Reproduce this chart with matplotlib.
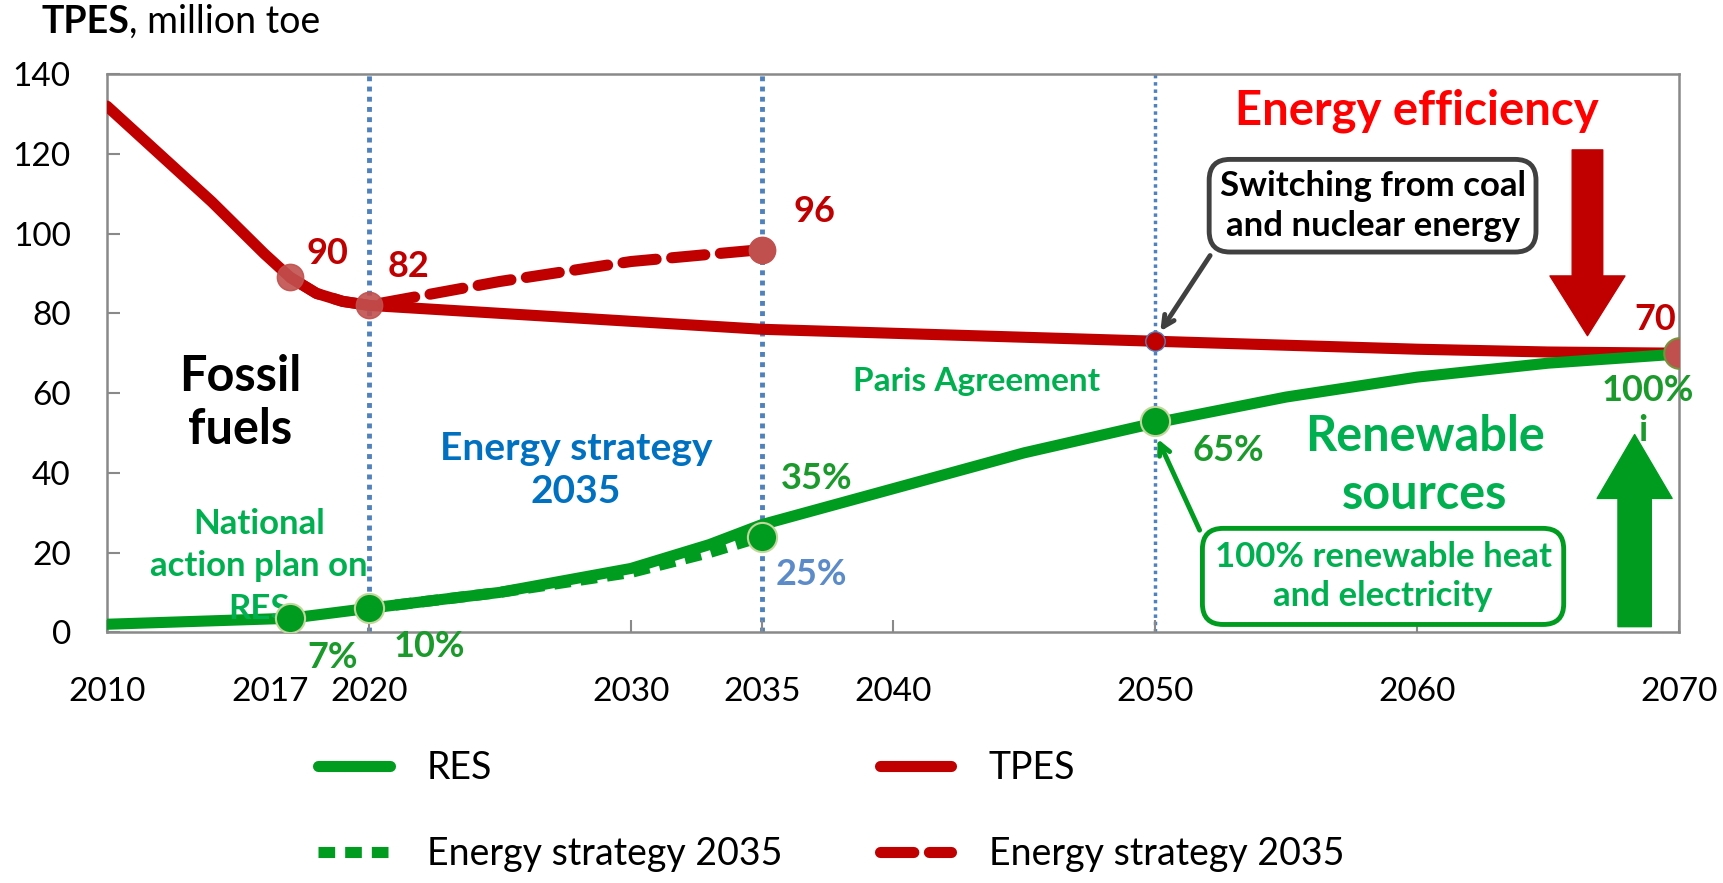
import matplotlib
matplotlib.use('Agg')
import matplotlib.pyplot as plt
from matplotlib.transforms import ScaledTranslation

plt.rcParams['font.family'] = ['Lato', 'DejaVu Sans']

# TPES, million toe
tpes_years = [2010, 2012, 2014, 2016, 2017, 2018, 2019, 2020, 2025, 2030, 2035, 2040, 2045, 2050, 2055, 2060, 2065, 2070]
tpes_vals = [132, 120, 108, 95, 89, 85, 83, 82, 80, 78, 76, 75, 74, 73, 72, 71, 70.3, 70]
tpes_es_years = [2017, 2018, 2019, 2020, 2025, 2030, 2035]
tpes_es_vals = [89, 85, 83, 82, 88, 93, 96]

# RES, million toe
res_years = [2010, 2017, 2020, 2025, 2030, 2033, 2035, 2040, 2045, 2050, 2055, 2060, 2065, 2070]
res_vals = [2, 3.5, 6, 10, 16, 22, 27, 36, 45, 52.5, 59, 64, 67.5, 69.8]
res_es_years = [2020, 2025, 2030, 2033, 2035]
res_es_vals = [6, 10, 15, 20, 24]

milestones = [2020, 2035, 2050]
x_ticks = [2010, 2017, 2020, 2030, 2035, 2040, 2050, 2060, 2070]
y_ticks = [0, 20, 40, 60, 80, 100, 120, 140]

RED = '#C00000'
GREEN = '#009C1F'
LGREEN = '#00B050'
TGREEN = '#1A9A2A'
BLUE = '#4F81BD'

fig = plt.figure(figsize=(17.24, 8.83), dpi=100)
ax = fig.add_axes([0.062, 0.284, 0.912, 0.632])

for m in milestones:
    ax.plot([m, m], [0, 140], color=BLUE, lw=3.5 if m < 2050 else 2.5, ls=(0, (1, 1.1)), zorder=1)

ax.plot(tpes_es_years, tpes_es_vals, color=RED, lw=8, dashes=(3.0, 1.4), dash_capstyle='round',
        label='Energy strategy 2035', zorder=3)
ax.plot(tpes_years, tpes_vals, color=RED, lw=8, solid_capstyle='round', label='TPES', zorder=3)
ax.plot(res_es_years, res_es_vals, color=GREEN, lw=8, dashes=(1.5, 0.9), label='Energy strategy 2035', zorder=3)
ax.plot(res_years, res_vals, color=GREEN, lw=8, solid_capstyle='round', label='RES', zorder=4)

# markers
ax.plot([2017, 2020], [89, 82], 'o', ms=19, color='#C0504D', mec='#C0504D', alpha=0.9, zorder=5)
ax.plot([2035], [96], 'o', ms=19, color='#C0504D', zorder=5)
ax.plot([2050], [73], 'o', ms=14, color=RED, mec=BLUE, mew=1, zorder=5)
ax.plot([2070], [70], 'o', ms=22, color='#C0504D', mec='#77933C', mew=1.5, zorder=6)
ax.plot([2017, 2020, 2035, 2050], [3.5, 6, 24, 53], 'o', ms=21, color=GREEN, mec='#C3D69B', mew=1.5, zorder=5)

# value labels
lab = dict(fontweight='bold', fontsize=26, ha='center', va='center', zorder=7)
ax.text(2018.4, 95, '90', color=RED, **lab)
ax.text(2021.5, 91.7, '82', color=RED, **lab)
ax.text(2037, 105.5, '96', color=RED, **lab)
ax.text(2069.1, 78.5, '70', color=RED, **lab)
ax.text(2018.6, -6.3, '7%', color=TGREEN, **lab)
ax.text(2022.3, -3.6, '10%', color=TGREEN, **lab)
ax.text(2037.1, 38.6, '35%', color=TGREEN, **lab)
ax.text(2036.9, 14.6, '25%', color='#5B8BC9', **lab)
ax.text(2052.8, 45.5, '65%', color=TGREEN, **lab)
ax.text(2068.8, 60.6, '100%', color=TGREEN, **lab)
ax.text(2068.6, 50.5, 'i', color=TGREEN, **lab)

ax.text(2015.1, 57.5, 'Fossil\nfuels', color='black', fontsize=35, fontweight='bold', ha='center',
        va='center', linespacing=1.2)
ax.text(2027.9, 40.6, 'Energy strategy\n2035', color='#0070C0', fontsize=28, fontweight='bold',
        ha='center', va='center', linespacing=1.27)
ax.text(2015.8, 16.5, 'National\naction plan on\nRES', color=LGREEN, fontsize=25, fontweight='bold',
        ha='center', va='center', linespacing=1.4, zorder=4)
ax.text(2043.2, 62.8, 'Paris Agreement', color=LGREEN, fontsize=24, fontweight='bold', ha='center', va='center')
ax.text(2060.0, 130.9, 'Energy efficiency', color='#FF0000', fontsize=34, fontweight='bold', ha='center', va='center')
ax.text(2060.3, 41.8, 'Renewable\nsources', color=LGREEN, fontsize=35, fontweight='bold', ha='center',
        va='center', linespacing=1.36)

ax.text(2058.3, 107, 'Switching from coal\nand nuclear energy', color='black', fontsize=25, fontweight='bold',
        ha='center', va='center', linespacing=1.3, zorder=8,
        bbox=dict(boxstyle='round,pad=0.3,rounding_size=0.6', fc='white', ec='#404040', lw=3.5))
ax.annotate('', xy=(2050.2, 75.5), xytext=(2052.1, 94.5),
            arrowprops=dict(arrowstyle='->,head_length=0.8,head_width=0.4', color='#404040', lw=3.5,
                            shrinkA=0, shrinkB=0), zorder=8)

ax.text(2058.7, 14, '100% renewable heat\nand electricity', color=LGREEN, fontsize=25, fontweight='bold',
        ha='center', va='center', linespacing=1.3, zorder=8,
        bbox=dict(boxstyle='round,pad=0.35,rounding_size=0.6', fc='white', ec=GREEN, lw=3.5))
ax.annotate('', xy=(2050.1, 48.5), xytext=(2051.7, 25.6),
            arrowprops=dict(arrowstyle='->,head_length=0.8,head_width=0.4', color=GREEN, lw=3.5,
                            shrinkA=0, shrinkB=0), zorder=8)

# big arrows
ax.annotate('', xy=(2066.5, 74.4), xytext=(2066.5, 121),
            arrowprops=dict(arrowstyle='simple,head_length=2.15,head_width=2.7,tail_width=1.1',
                            mutation_scale=20, color=RED, shrinkA=0, shrinkB=0), zorder=6)
ax.annotate('', xy=(2068.3, 49.6), xytext=(2068.3, 1.4),
            arrowprops=dict(arrowstyle='simple,head_length=2.3,head_width=2.7,tail_width=1.2',
                            mutation_scale=20, color=GREEN, shrinkA=0, shrinkB=0), zorder=6)

ax.set_xlim(2010, 2070)
ax.set_ylim(0, 140)
ax.set_xticks(x_ticks)
ax.set_xticklabels([str(t) for t in x_ticks])
ax.set_yticks(y_ticks)
ax.tick_params(direction='in', length=9, width=1.5, color='#898989', labelsize=24)
ax.tick_params(axis='y', pad=26)
ax.tick_params(axis='x', pad=32)
for s in ax.spines.values():
    s.set_color('#898989')
    s.set_linewidth(1.8)

# the 2017 label sits a little left of its tick
lbl2017 = ax.get_xticklabels()[1]
lbl2017.set_transform(lbl2017.get_transform() + ScaledTranslation(-0.2, 0, fig.dpi_scale_trans))

t1 = fig.text(0.024, 0.975, 'TPES', fontsize=27, fontweight='bold', va='center', ha='left')
ax.annotate(', million toe', xy=(1, 0.5), xycoords=t1, fontsize=27, va='center', ha='left',
            annotation_clip=False)

handles, labels = ax.get_legend_handles_labels()
order = [3, 2, 1, 0]
ax.legend([handles[i] for i in order], [labels[i] for i in order], ncol=2, frameon=False,
          loc='upper left', bbox_to_anchor=(0.113, -0.15), fontsize=27, handlelength=1.9,
          handletextpad=1.0, columnspacing=2.6, labelspacing=1.35)

fig.savefig('out.png', dpi=100)
